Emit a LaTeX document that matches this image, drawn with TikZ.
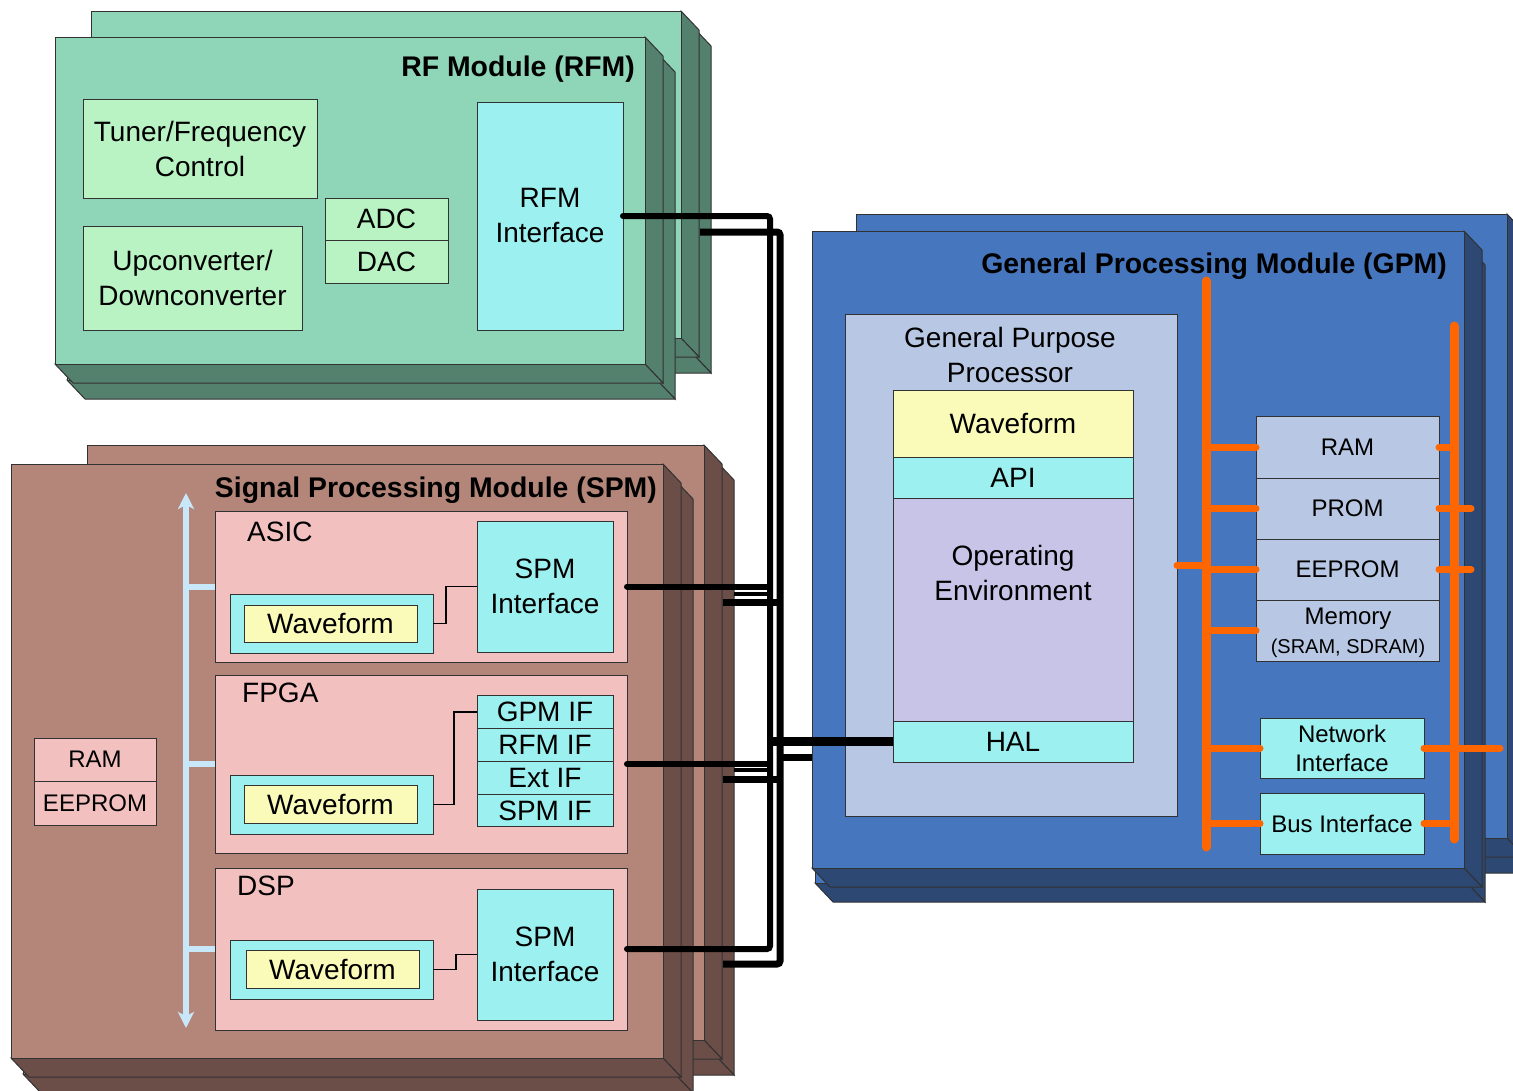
\documentclass[tikz,border=0pt]{standalone}
\usepackage{fontspec}
\setmainfont{Liberation Sans}
\usepackage{tikz}
\usetikzlibrary{positioning,arrows.meta}
\definecolor{RfmFace}{RGB}{143,213,183}
\definecolor{RfmSide}{RGB}{84,128,110}
\definecolor{LightGreenBox}{RGB}{185,243,196}
\definecolor{CyanBox}{RGB}{156,240,240}
\definecolor{SpmFace}{RGB}{180,134,122}
\definecolor{SpmSide}{RGB}{108,78,72}
\definecolor{PinkBox}{RGB}{242,192,190}
\definecolor{YellowBox}{RGB}{250,250,185}
\definecolor{GpmFace}{RGB}{70,118,190}
\definecolor{GpmSide}{RGB}{44,72,115}
\definecolor{GppBox}{RGB}{184,200,228}
\definecolor{LavenderBox}{RGB}{200,196,232}
\definecolor{OrangeBus}{RGB}{255,102,0}
\definecolor{SkyBus}{RGB}{200,232,250}
\definecolor{EdgeGray}{RGB}{50,50,50}
\newcommand{\bigtxt}{\fontsize{28}{35}\selectfont}
\newcommand{\titletxt}{\fontsize{28.4}{35}\selectfont}
\newcommand{\midtxt}{\fontsize{24}{29}\selectfont}
\newcommand{\smalltxt}{\fontsize{20}{24}\selectfont}
% one slab: face with right and bottom sides
\newcommand{\modslab}[6]{%
  \filldraw[modedge,fill=#6] (#3,#2) -- (#3+18,#2+19) -- (#3+18,#4+19) -- (#3,#4) -- cycle;
  \filldraw[modedge,fill=#6] (#1,#4) -- (#3,#4) -- (#3+18,#4+19) -- (#1+18,#4+19) -- cycle;
  \filldraw[modedge,fill=#5] (#1,#2) rectangle (#3,#4);}
% one board: rear slab shifted by (#7,#8), then front slab
\newcommand{\modboard}[8]{%
  \modslab{#1+#7}{#2+#8}{#3+#7}{#4+#8}{#5}{#6}%
  \modslab{#1}{#2}{#3}{#4}{#5}{#6}}

\begin{document}
\begin{tikzpicture}[x=1pt,y=-1pt,
  modedge/.style={draw=EdgeGray,line width=1pt},
  box/.style={draw=EdgeGray,line width=1pt,inner sep=0pt,outer sep=0pt,align=center,font=\bigtxt},
  title/.style={font=\bfseries\titletxt,inner sep=0pt,anchor=base east},
  lbl/.style={font=\bigtxt,inner sep=0pt,anchor=base west},
  link/.style={draw=black,line width=1.5pt},
  wire/.style={draw=black,line width=6pt,line cap=round,rounded corners=3pt},
  wireb/.style={draw=black,line width=7pt,rounded corners=3pt},
  wirem/.style={draw=black,line width=4.5pt},
  obus/.style={draw=OrangeBus,line width=9pt,line cap=round},
  ostub/.style={draw=OrangeBus,line width=7pt,line cap=round},
  sbus/.style={draw=SkyBus,line width=6pt}
]
\useasboundingbox (0,0) rectangle (1513,1090);
\clip (0,0) rectangle (1513,1090);
\fill[white] (0,0) rectangle (1513,1090);

\modboard{91}{11}{681}{338}{RfmFace}{RfmSide}{12}{16}
\modboard{55}{37}{645}{364}{RfmFace}{RfmSide}{12}{16}
\modboard{87}{445}{704}{1040}{SpmFace}{SpmSide}{12}{16}
\modboard{11}{464}{663}{1058}{SpmFace}{SpmSide}{12}{16}
\modboard{856}{214}{1507}{838}{GpmFace}{GpmSide}{12}{16}
\modboard{812}{231}{1464}{868}{GpmFace}{GpmSide}{3}{15}

% RF module
\node[title] (rfmtitle) at (635,76) {RF Module (RFM)};
\node[box,fill=LightGreenBox,minimum width=234,minimum height=99] (tuner) at (200,149) {Tuner/Frequency\\Control};
\node[box,fill=LightGreenBox,minimum width=219,minimum height=104] (updown) at (192.5,278) {Upconverter/\\Downconverter};
\node[box,fill=LightGreenBox,minimum width=123,minimum height=42] (adc) at (386.5,219) {ADC};
\node[box,fill=LightGreenBox,minimum width=123,minimum height=43,below=0pt of adc] (dac) {DAC};
\node[box,fill=CyanBox,minimum width=146,minimum height=228] (rfmif) at (550,216) {RFM\\Interface};

% signal processing module
\node[title] (spmtitle) at (657,497) {Signal Processing Module (SPM)};
\node[box,fill=PinkBox,minimum width=122,minimum height=43,font=\midtxt] (sram) at (95,759.5) {RAM};
\node[box,fill=PinkBox,minimum width=122,minimum height=44,font=\midtxt,below=0pt of sram] (seeprom) {EEPROM};

\node[box,fill=PinkBox,minimum width=412,minimum height=151] (asic) at (421,586.5) {};
\node[lbl] (asiclbl) at (247,541) {ASIC};
\node[box,fill=CyanBox,minimum width=203,minimum height=59] (asicwf) at (331.5,623.5) {};
\node[box,fill=YellowBox,minimum width=173,minimum height=37] (asicwfin) at (330.5,623.5) {Waveform};
\node[box,fill=CyanBox,minimum width=136,minimum height=131] (asicif) at (545,586.5) {SPM\\Interface};

\node[box,fill=PinkBox,minimum width=412,minimum height=178] (fpga) at (421,764) {};
\node[lbl] (fpgalbl) at (242,702) {FPGA};
\node[box,fill=CyanBox,minimum width=203,minimum height=59] (fpgawf) at (331.5,804.5) {};
\node[box,fill=YellowBox,minimum width=173,minimum height=38] (fpgawfin) at (330.5,804) {Waveform};
\node[box,fill=CyanBox,minimum width=136,minimum height=32.5] (fgpmif) at (545,712) {GPM IF};
\node[box,fill=CyanBox,minimum width=136,minimum height=33,below=0pt of fgpmif] (frfmif) {RFM IF};
\node[box,fill=CyanBox,minimum width=136,minimum height=33,below=0pt of frfmif] (fextif) {Ext IF};
\node[box,fill=CyanBox,minimum width=136,minimum height=32.5,below=0pt of fextif] (fspmif) {SPM IF};

\node[box,fill=PinkBox,minimum width=412,minimum height=162] (dsp) at (421,949) {};
\node[lbl] (dsplbl) at (237,895) {DSP};
\node[box,fill=CyanBox,minimum width=203,minimum height=59] (dspwf) at (331.5,969.5) {};
\node[box,fill=YellowBox,minimum width=173,minimum height=38] (dspwfin) at (332.5,969) {Waveform};
\node[box,fill=CyanBox,minimum width=136,minimum height=131] (dspif) at (545,954.5) {SPM\\Interface};

\draw[link] (asicwf.east) -- ++(13,0) |- (asicif.west);
\draw[link] (fpgawf.east) -- ++(21,0) |- (fgpmif.west);
\draw[link] (dspwf.east) -- ++(23,0) |- (dspif.west);

\coordinate (sbusT) at (186,493);
\coordinate (sbusB) at (186,1028);
\foreach \chip in {asic,fpga,dsp} \draw[sbus] (\chip.west) -- (\chip.west -| sbusT);
\draw[sbus,{Stealth[length=16pt,width=16pt,inset=4pt]}-{Stealth[length=16pt,width=16pt,inset=4pt]}] (sbusT) -- (sbusB);

% general processing module
\node[title] (gpmtitle) at (1447,273) {General Processing Module (GPM)};
\node[box,fill=GppBox,minimum width=332,minimum height=502] (gpp) at (1011,565) {};
\node[font=\bigtxt,align=center,inner sep=0pt] (gpptitle) at (1010,355) {General Purpose\\Processor};
\node[box,fill=YellowBox,minimum width=240,minimum height=67] (gwf) at (1013,423.5) {Waveform};
\node[box,fill=CyanBox,minimum width=240,minimum height=41,below=0pt of gwf] (api) {API};
\node[box,fill=LavenderBox,minimum width=240,minimum height=223,below=0pt of api] (openv) {};
\node[font=\bigtxt,align=center,inner sep=0pt] (opentxt) at (1013,573) {Operating\\Environment};
\node[box,fill=CyanBox,minimum width=240,minimum height=41,below=0pt of openv] (hal) {HAL};

\node[box,fill=GppBox,minimum width=183,minimum height=62,font=\midtxt] (gram) at (1347.5,447) {RAM};
\node[box,fill=GppBox,minimum width=183,minimum height=61,font=\midtxt,below=0pt of gram] (gprom) {PROM};
\node[box,fill=GppBox,minimum width=183,minimum height=61,font=\midtxt,below=0pt of gprom] (geeprom) {EEPROM};
\node[box,fill=GppBox,minimum width=183,minimum height=61,font=\midtxt,below=0pt of geeprom] (gmem) {};
\node[font=\midtxt,align=center,inner sep=0pt] (gmemtxt) at (1348,633) {Memory\\[0pt]{\smalltxt (SRAM, SDRAM)}};
\node[box,fill=CyanBox,minimum width=164,minimum height=60,font=\midtxt] (netif) at (1342,748) {Network\\Interface};
\node[box,fill=CyanBox,minimum width=164,minimum height=61,font=\midtxt] (busif) at (1342,823.5) {Bus Interface};

\coordinate (lbusT) at (1206,281);
\coordinate (lbusB) at (1206,847);
\coordinate (rbusT) at (1454,326);
\coordinate (rbusB) at (1454,839);
\draw[obus] (lbusT) -- (lbusB);
\draw[obus] (rbusT) -- (rbusB);
\foreach \mem in {gram,gprom,geeprom,gmem,netif,busif} \draw[ostub] (\mem.west) -- (\mem.west -| lbusT);
\draw[ostub] (gpp.east) -- (gpp.east -| lbusT);
\draw[ostub] (gram.east) -- (gram.east -| rbusT);
\draw[ostub] (gprom.east) -- ++(32,0);
\draw[ostub] (geeprom.east) -- ++(32,0);
\draw[ostub] (netif.east) -- ++(76,0);
\draw[ostub] (busif.east) -- (busif.east -| rbusT);

% module interconnect
\coordinate (busA) at (770,949);
\coordinate (busB) at (780,964);
\draw[wire] (rfmif.east) -| (busA) -- (dsp.east);
\draw[wire] (asic.east) -- (asic.east -| busA);
\draw[wire] (fpga.east) -- (fpga.east -| busA);
\draw[wire,line width=8.5pt,line cap=butt] (hal.west) -- (hal.west -| busA);
\coordinate (rfmB) at (700,232);
\coordinate (spmB) at (723,964);
\draw[wireb] (rfmB) -| (busB) -- (spmB);
\coordinate (asicB) at (723,602);
\coordinate (fpgaB) at (723,779);
\coordinate (gpmB) at (812,757);
\foreach \src in {asicB,fpgaB,gpmB} \draw[wireb] (\src) -- (\src -| busB);
\coordinate (asicM) at (734,594);
\coordinate (fpgaM) at (734,770);
\foreach \src in {asicM,fpgaM} \draw[wirem] (\src) -- (\src -| busA);
\end{tikzpicture}
\end{document}
